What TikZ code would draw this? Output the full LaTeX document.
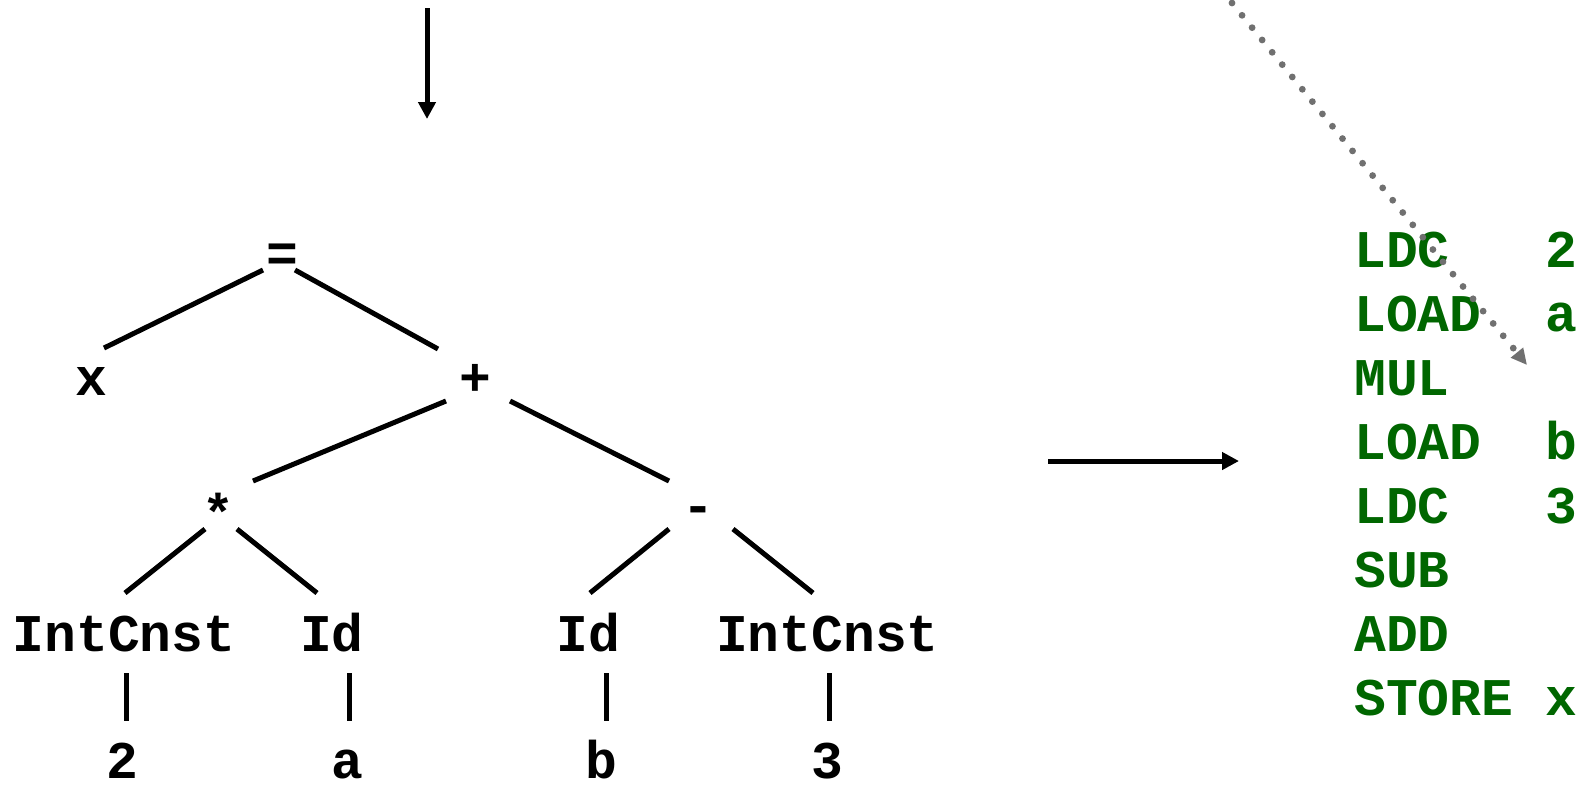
\documentclass[tikz,border=0pt]{standalone}
\usepackage{fontspec}
\setmonofont{Liberation Mono}
\usetikzlibrary{arrows.meta}
\definecolor{codegreen}{RGB}{0,102,0}
\definecolor{flowgray}{RGB}{112,112,112}
\begin{document}
\begin{tikzpicture}[x=1pt,y=-1pt,
  lbl/.style={inner sep=0pt,anchor=base,font=\fontsize{53}{60}\selectfont\ttfamily\bfseries},
  codeline/.style={inner sep=0pt,anchor=base west,text=codegreen,font=\fontsize{53}{60}\selectfont\ttfamily\bfseries},
  branch/.style={line width=5pt},
  flow/.style={line width=5pt,-{Triangle[length=17pt,width=17pt]}},
  hint/.style={draw=flowgray,line width=6.8pt,line cap=round,dash pattern=on 0pt off 15.9pt,
               -{Triangle[length=16pt,width=15pt,fill=flowgray]}}]
\useasboundingbox (0,0) rectangle (1587,785);

% syntax tree
\node[lbl] (eq)    at (282,271) {=};
\node[lbl] (xv)    at (91,395)  {x};
\node[lbl] (plus)  at (475,395) {+};
\node[lbl] (times) at (218,531) {*};
\node[lbl] (minus) at (698,523) {-};
\node[lbl] (icL)   at (124,651) {IntCnst};
\node[lbl] (idL)   at (332,651) {Id};
\node[lbl] (idR)   at (588,651) {Id};
\node[lbl] (icR)   at (827.5,651) {IntCnst};
\node[lbl] (two)   at (122,778) {2};
\node[lbl] (av)    at (347,778) {a};
\node[lbl] (bv)    at (601,778) {b};
\node[lbl] (three) at (827,778) {3};

\draw[branch] ([shift={(-19,-1)}]eq.base)  -- ([shift={(13,-47)}]xv.base);
\draw[branch] ([shift={(13,-1)}]eq.base)   -- ([shift={(-37,-46)}]plus.base);
\draw[branch] ([shift={(-29,6)}]plus.base) -- ([shift={(35,-50)}]times.base);
\draw[branch] ([shift={(35,6)}]plus.base)  -- ([shift={(-29,-42)}]minus.base);
\draw[branch] ([shift={(-13,-2)}]times.base) -- ([shift={(1,-58)}]icL.base);
\draw[branch] ([shift={(19,-2)}]times.base)  -- ([shift={(-15,-58)}]idL.base);
\draw[branch] ([shift={(-29,6)}]minus.base) -- ([shift={(2,-58)}]idR.base);
\draw[branch] ([shift={(35,6)}]minus.base)  -- ([shift={(-14.5,-58)}]icR.base);
\draw[branch] ([shift={(2,22)}]icL.base)   -- ([shift={(4,-57)}]two.base);
\draw[branch] ([shift={(17,22)}]idL.base)  -- ([shift={(2,-57)}]av.base);
\draw[branch] ([shift={(18,22)}]idR.base)  -- ([shift={(5,-57)}]bv.base);
\draw[branch] ([shift={(1.5,22)}]icR.base) -- ([shift={(2,-57)}]three.base);

% generated stack code
\node[codeline] (c1) at (1354,267) {LDC~~~2};
\node[codeline] (c2) at (1354,331) {LOAD~~a};
\node[codeline] (c3) at (1354,395) {MUL};
\node[codeline] (c4) at (1354,459) {LOAD~~b};
\node[codeline] (c5) at (1354,523) {LDC~~~3};
\node[codeline] (c6) at (1354,587) {SUB};
\node[codeline] (c7) at (1354,651) {ADD};
\node[codeline] (c8) at (1354,715) {STORE~x};

% flow arrows
\coordinate (parseIn)  at (427,8);
\coordinate (treeTop)  at (427,119);
\coordinate (genFrom)  at (1048,461);
\coordinate (genTo)    at (1239,461);
\coordinate (hintFrom) at (1232,3);
\coordinate (hintTo)   at (1527,365);
\draw[flow] (parseIn) -- (treeTop);
\draw[flow] (genFrom) -- (genTo);
\draw[hint] (hintFrom) -- (hintTo);
\end{tikzpicture}
\end{document}
